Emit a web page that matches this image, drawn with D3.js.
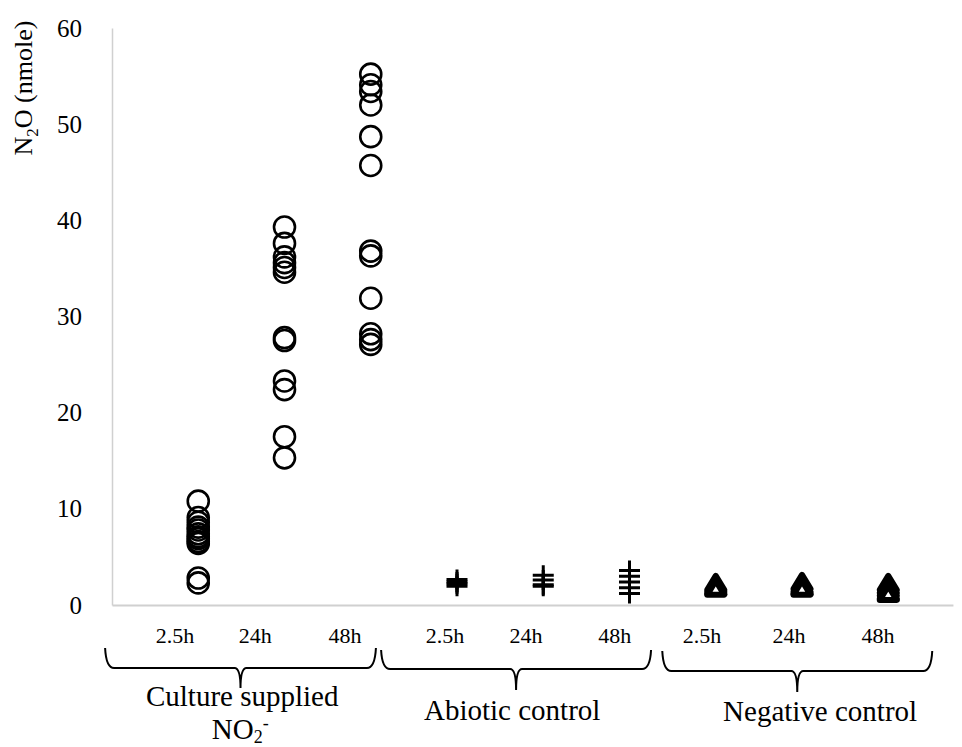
<!DOCTYPE html>
<html>
<head>
<meta charset="utf-8">
<script src="https://cdn.jsdelivr.net/npm/d3@7/dist/d3.min.js"></script>
<style>
  html, body { margin: 0; padding: 0; background: #fff; }
  svg { display: block; font-family: "Liberation Serif", "Times New Roman", serif; }
</style>
</head>
<body>
<svg id="chart" width="962" height="747"></svg>
<script>
// ---------- data ----------
const timeLabels = ["2.5h", "24h", "48h"];
const groupNames = ["Culture supplied", "Abiotic control", "Negative control"];
const yTicks = [0, 10, 20, 30, 40, 50, 60];

const culture25 = [10.8, 9.1, 8.6, 8.1, 7.8, 7.4, 7.1, 6.9, 6.6, 6.4, 2.8, 2.3];
const culture24 = [39.3, 37.6, 36.2, 35.6, 35.1, 34.6, 27.8, 27.5, 23.3, 22.4, 17.5, 15.3];
const culture48 = [55.2, 54.1, 53.4, 52.0, 48.7, 45.7, 36.8, 36.3, 31.9, 28.2, 27.6, 27.1];
const abiotic25 = [2.65, 2.4, 2.2, 1.95];
const abiotic24 = [3.1, 2.6, 2.1, 1.95];
const abiotic48 = [3.6, 3.0, 2.4, 1.8, 1.2];
const negative25 = [2.2, 2.0, 1.8, 1.7];
const negative24 = [2.3, 2.0, 1.8, 1.7];
const negative48 = [2.2, 1.9, 1.6, 1.3, 1.15];

// column index on the x axis (1..9)
const seriesCircle = [[1, culture25], [2, culture24], [3, culture48]];
const seriesPlus = [[4, abiotic25], [5, abiotic24], [6, abiotic48]];
const seriesTri = [[7, negative25], [8, negative24], [9, negative48]];

// label anchors (x-data units)
const timeLabelX = [0.73, 1.66, 2.70, 3.86, 4.80, 5.83, 6.84, 7.85, 8.88];
const braceSpans = [[-0.08, 3.06], [3.12, 6.25], [6.38, 9.51]];
const groupLabelX = [1.51, 4.64, 8.21];
const groupLabelY = [706, 720, 721];

// ---------- layout ----------
const svg = d3.select("#chart");
const x = d3.scaleLinear().domain([0, 10]).range([112, 974.5]);
const y = d3.scaleLinear().domain([0, 60]).range([605, 28]);

const yAxis = d3.axisLeft(y).tickValues(yTicks).tickSize(0).tickPadding(30).tickFormat(d3.format("d"));
const gy = svg.append("g").attr("transform", `translate(${x(0)},0)`).call(yAxis);
gy.select(".domain").attr("stroke", "#d0d0d0").attr("stroke-width", 1.5);
gy.selectAll("text").attr("font-size", 25).attr("font-family", "Liberation Serif").attr("fill", "#000");

const xAxis = d3.axisBottom(x.copy().domain([0, 9.75]).range([112, x(9.75)])).tickValues([]).tickSize(0);
const gx = svg.append("g").attr("transform", `translate(0,${y(0)})`).call(xAxis);
gx.select(".domain").attr("stroke", "#d0d0d0").attr("stroke-width", 2);

// y title
const yt = svg.append("text")
  .attr("transform", `translate(32,88) rotate(-90)`)
  .attr("text-anchor", "middle")
  .attr("font-size", 26)
  .attr("fill", "#000");
yt.append("tspan").text("N");
yt.append("tspan").text("2").attr("font-size", 17).attr("dy", 6);
yt.append("tspan").text("O (nmole)").attr("dy", -6);

// markers
const circleG = svg.append("g");
seriesCircle.forEach(([xi, vals]) => {
  circleG.selectAll(null).data(vals).enter().append("circle")
    .attr("cx", x(xi)).attr("cy", d => y(d)).attr("r", 10.5)
    .attr("fill", "none").attr("stroke", "#000").attr("stroke-width", 2.6);
});

const plusG = svg.append("g");
seriesPlus.forEach(([xi, vals]) => {
  plusG.selectAll(null).data(vals).enter().append("path")
    .attr("transform", d => `translate(${x(xi)},${y(d)})`)
    .attr("d", "M-10.5,0H10.5M0,-10V10")
    .attr("fill", "none").attr("stroke", "#000").attr("stroke-width", 3);
});

const triG = svg.append("g");
seriesTri.forEach(([xi, vals]) => {
  triG.selectAll(null).data(vals).enter().append("path")
    .attr("transform", d => `translate(${x(xi)},${y(d)})`)
    .attr("d", "M0,-8L8.5,6L-8.5,6Z")
    .attr("fill", "#fff").attr("stroke", "#000").attr("stroke-width", 6)
    .attr("stroke-linejoin", "round");
});

// time labels
svg.append("g").selectAll("text").data(timeLabelX).enter().append("text")
  .attr("x", d => x(d)).attr("y", 643)
  .attr("text-anchor", "middle").attr("font-size", 22).attr("fill", "#000")
  .text((d, i) => timeLabels[i % 3]);

// braces
const braceTop = [648, 650, 651], braceMid = [668, 669, 671], braceTip = [688, 690, 692];
svg.append("g").selectAll("path").data(braceSpans).enter().append("path")
  .attr("d", ([a, b], i) => {
    const x0 = x(a), x1 = x(b), cx = (x0 + x1) / 2;
    const t = braceTop[i], m = braceMid[i], p = braceTip[i];
    return `M${x0},${t} Q${x0 + 1},${m} ${x0 + 9},${m} L${cx - 6},${m} Q${cx},${m} ${cx},${p} Q${cx},${m} ${cx + 6},${m} L${x1 - 9},${m} Q${x1 - 1},${m} ${x1},${t}`;
  })
  .attr("fill", "none").attr("stroke", "#000").attr("stroke-width", 2);

// group labels
const gl = svg.append("g").attr("font-size", 29).attr("fill", "#000").attr("text-anchor", "middle");
groupNames.forEach((name, i) => {
  gl.append("text").attr("x", x(groupLabelX[i])).attr("y", groupLabelY[i]).text(name);
});
const no2 = gl.append("text").attr("x", x(groupLabelX[0]) - 2).attr("y", 739);
no2.append("tspan").text("NO");
no2.append("tspan").text("2").attr("font-size", 18).attr("dy", 4);
no2.append("tspan").text("-").attr("font-size", 18).attr("dy", -14);
</script>
</body>
</html>
